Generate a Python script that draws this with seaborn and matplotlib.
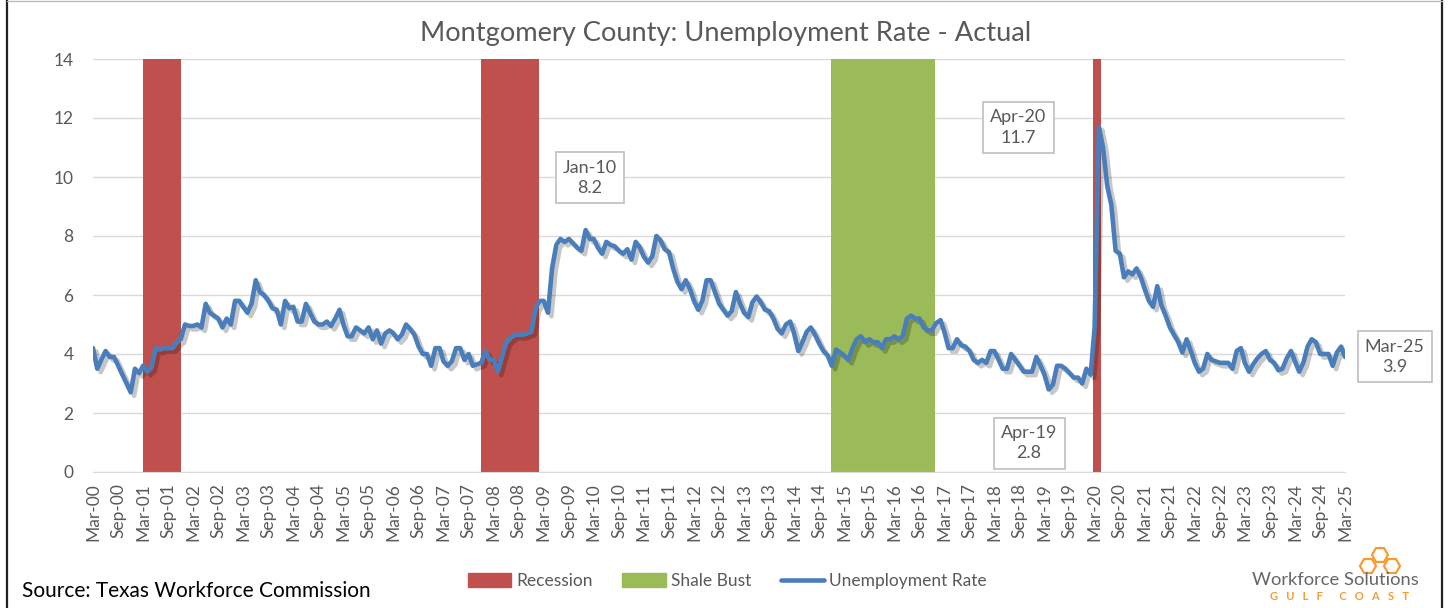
import numpy as np
import pandas as pd
import seaborn as sns
import matplotlib.pyplot as plt
import matplotlib.patheffects as pe
from matplotlib.patches import Patch, RegularPolygon
from matplotlib.lines import Line2D

# monthly unemployment rate, Mar-00 .. Mar-25
rate_2000 = [4.2, 3.5, 3.8, 4.1, 3.9, 3.9, 3.6, 3.3, 3.0, 2.7]
rate_2001 = [3.5, 3.35, 3.6, 3.4, 3.55, 4.2, 4.15, 4.2, 4.2, 4.2, 4.4, 4.5]
rate_2002 = [5.0, 4.95, 4.95, 5.0, 4.9, 5.7, 5.4, 5.3, 5.2, 4.9, 5.2, 5.0]
rate_2003 = [5.8, 5.8, 5.6, 5.4, 5.7, 6.5, 6.1, 6.0, 5.8, 5.55, 5.5, 5.0]
rate_2004 = [5.8, 5.55, 5.6, 5.1, 5.1, 5.7, 5.4, 5.1, 5.0, 5.0, 5.1, 4.95]
rate_2005 = [5.2, 5.5, 5.0, 4.6, 4.6, 4.9, 4.8, 4.7, 4.9, 4.5, 4.8, 4.35]
rate_2006 = [4.7, 4.8, 4.7, 4.5, 4.65, 5.0, 4.85, 4.65, 4.25, 4.0, 4.0, 3.6]
rate_2007 = [4.2, 4.2, 3.75, 3.6, 3.75, 4.2, 4.2, 3.8, 4.0, 3.6, 3.65, 3.7]
rate_2008 = [4.1, 3.8, 3.8, 3.4, 3.9, 4.4, 4.55, 4.65, 4.65, 4.65, 4.7, 4.75]
rate_2009 = [5.55, 5.8, 5.8, 5.4, 6.9, 7.7, 7.9, 7.8, 7.9, 7.75, 7.6, 7.5]
rate_2010 = [8.2, 7.9, 7.9, 7.6, 7.4, 7.8, 7.7, 7.65, 7.5, 7.4, 7.55, 7.2]
rate_2011 = [7.8, 7.6, 7.3, 7.1, 7.3, 8.0, 7.85, 7.55, 7.45, 6.9, 6.45, 6.2]
rate_2012 = [6.5, 6.2, 5.8, 5.5, 5.8, 6.5, 6.5, 6.1, 5.7, 5.5, 5.3, 5.45]
rate_2013 = [6.1, 5.7, 5.4, 5.25, 5.75, 5.95, 5.75, 5.5, 5.45, 5.2, 4.85, 4.7]
rate_2014 = [5.0, 5.1, 4.7, 4.1, 4.4, 4.75, 4.9, 4.65, 4.35, 4.1, 3.95, 3.6]
rate_2015 = [4.15, 4.05, 3.95, 3.8, 4.2, 4.5, 4.6, 4.4, 4.5, 4.4, 4.4, 4.2]
rate_2016 = [4.5, 4.5, 4.6, 4.5, 4.6, 5.2, 5.3, 5.2, 5.2, 4.9, 4.8, 4.8]
rate_2017 = [5.05, 5.15, 4.75, 4.2, 4.2, 4.5, 4.3, 4.25, 4.1, 3.8, 3.7, 3.8]
rate_2018 = [3.7, 4.1, 4.1, 3.8, 3.5, 3.5, 4.0, 3.8, 3.6, 3.4, 3.4, 3.4]
rate_2019 = [3.9, 3.6, 3.3, 2.8, 2.95, 3.6, 3.6, 3.5, 3.35, 3.2, 3.2, 3.0]
rate_2020 = [3.5, 3.3, 4.9, 11.7, 11.0, 9.7, 9.05, 7.5, 7.4, 6.6, 6.8, 6.7]
rate_2021 = [6.9, 6.6, 6.2, 5.8, 5.6, 6.3, 5.65, 5.3, 4.9, 4.65, 4.4, 4.05]
rate_2022 = [4.5, 4.1, 3.7, 3.4, 3.5, 4.0, 3.8, 3.75, 3.7, 3.7, 3.7, 3.5]
rate_2023 = [4.1, 4.2, 3.7, 3.4, 3.65, 3.85, 4.0, 4.1, 3.8, 3.7, 3.45, 3.5]
rate_2024 = [3.85, 4.1, 3.75, 3.4, 3.7, 4.25, 4.5, 4.4, 4.0, 4.0, 4.0, 3.6]
rate_2025 = [4.05, 4.25, 3.9]

rate = (rate_2000 + rate_2001 + rate_2002 + rate_2003 + rate_2004 + rate_2005
        + rate_2006 + rate_2007 + rate_2008 + rate_2009 + rate_2010 + rate_2011
        + rate_2012 + rate_2013 + rate_2014 + rate_2015 + rate_2016 + rate_2017
        + rate_2018 + rate_2019 + rate_2020 + rate_2021 + rate_2022 + rate_2023
        + rate_2024 + rate_2025)
dates = pd.date_range('2000-03-01', periods=len(rate), freq='MS')
df = pd.DataFrame({'date': dates, 'rate': rate})

# shaded periods
recession_start = ['2001-03-01', '2007-12-01', '2020-02-21']
recession_end = ['2001-12-04', '2009-01-28', '2020-04-19']
shale_start = ['2014-11-26']
shale_end = ['2016-12-25']

# labelled points
label_dates = ['2010-01-01', '2020-04-01', '2019-04-01', '2025-03-01']

RED = '#c0504d'
GREEN = '#9bbb59'
BLUE = '#4a7ebb'
GREY = '#595959'
ORANGE = '#f39c32'

sns.set_style('white')
plt.rcParams['font.family'] = ['Lato', 'DejaVu Sans']

fig = plt.figure(figsize=(14.49, 6.08), dpi=100)
ax = fig.add_axes([93 / 1449, 1 - 472 / 608, (1345 - 93) / 1449, (472 - 59) / 608])

for s, e in zip(recession_start, recession_end):
    ax.axvspan(pd.Timestamp(s), pd.Timestamp(e), color=RED, lw=0, zorder=1)
for s, e in zip(shale_start, shale_end):
    ax.axvspan(pd.Timestamp(s), pd.Timestamp(e), color=GREEN, lw=0, zorder=1)

sns.lineplot(data=df, x='date', y='rate', ax=ax, color=BLUE, linewidth=3.3, zorder=3)
ax.lines[0].set_path_effects([pe.SimpleLineShadow(offset=(2.5, -2.5), shadow_color='k', alpha=0.22),
                              pe.Normal()])
ax.lines[0].set_solid_joinstyle('round')

ax.set_ylim(0, 14)
ax.set_yticks(np.arange(0, 15, 2))
ax.set_xlim(dates[0], dates[-1])
ticks = pd.date_range(dates[0], dates[-1], freq='6MS')
ax.set_xticks(ticks)
ax.set_xticklabels([t.strftime('%b-%y') for t in ticks], rotation=90)
ax.set_xlabel('')
ax.set_ylabel('')

ax.grid(axis='y', color='#d9d9d9', lw=1, zorder=0)
ax.set_axisbelow(True)
for sp in ['left', 'right', 'top']:
    ax.spines[sp].set_visible(False)
ax.spines['bottom'].set_color('#d9d9d9')
ax.spines['bottom'].set_zorder(5)
ax.tick_params(axis='x', length=4, color='#d9d9d9', width=1, pad=4, labelsize=12.5, labelcolor=GREY)
ax.tick_params(axis='y', length=0, pad=14, labelsize=12.5, labelcolor=GREY)

# data labels
label_pos = [(119.1, 9.97), (221.7, 11.68), (224.3, 0.98), (311.9, 3.9)]
for d, (mpos, ypos) in zip(label_dates, label_pos):
    v = df.loc[df['date'] == pd.Timestamp(d), 'rate'].iloc[0]
    xpos = dates[0] + pd.Timedelta(days=mpos * 30.44)
    ax.text(xpos, ypos, pd.Timestamp(d).strftime('%b-%y') + '\n' + f'{v:.1f}',
            ha='center', va='center', fontsize=13, color=GREY, linespacing=1.35,
            bbox=dict(boxstyle='square,pad=0.4', fc='white', ec='#bfbfbf', lw=1.2),
            zorder=6, clip_on=False)

fig.text(0.501, 1 - 33 / 608, 'Montgomery County: Unemployment Rate - Actual',
         ha='center', va='center', fontsize=19.6, color=GREY)

handles = [Patch(color=RED, label='Recession'),
           Patch(color=GREEN, label='Shale Bust'),
           Line2D([], [], color=BLUE, lw=3.3, label='Unemployment Rate')]
fig.legend(handles=handles, loc='center', bbox_to_anchor=(0.502, 1 - 581 / 608), ncol=3,
           frameon=False, fontsize=12.5, labelcolor=GREY, handlelength=2.5, handleheight=0.85,
           handletextpad=0.3, columnspacing=1.7)

fig.text(22 / 1449, 1 - 591 / 608, 'Source: Texas Workforce Commission',
         ha='left', va='center', fontsize=15, color='black')

# logo
fig.text(1335 / 1449, 1 - 580 / 608, 'Workforce Solutions', ha='center', va='center',
         fontsize=13.2, color='#666666')
fig.text(1340 / 1449, 1 - 597 / 608, 'G   U   L   F      C   O   A   S   T', ha='center', va='center',
         fontsize=8, color=ORANGE, fontweight='bold')
lax = fig.add_axes([1352 / 1449, 1 - 574 / 608, 56 / 1449, 28 / 608])
lax.set_xlim(0, 56)
lax.set_ylim(0, 28)
lax.axis('off')
for cx, cy in [(28, 19), (16, 8), (40, 8)]:
    lax.add_patch(RegularPolygon((cx, cy), 6, radius=8, orientation=np.pi / 6,
                                 fill=False, ec=ORANGE, lw=1.6))

# frame
fig.add_artist(Line2D([7 / 1449, 7 / 1449], [0, 1], color='#222222', lw=1.6))
fig.add_artist(Line2D([1442 / 1449, 1442 / 1449], [0, 1], color='#222222', lw=1.6))
fig.add_artist(Line2D([7 / 1449, 1442 / 1449], [0.998, 0.998], color='#bbbbbb', lw=1))

fig.savefig('out.png', dpi=100)
